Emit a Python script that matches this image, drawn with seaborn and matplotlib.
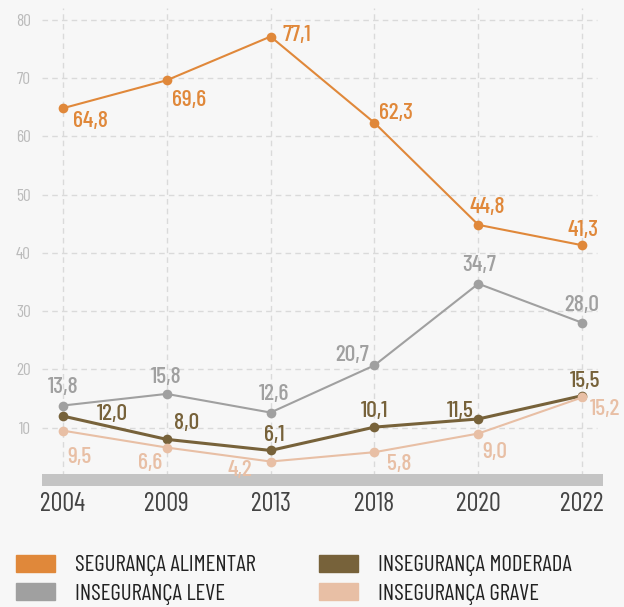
import numpy as np
import pandas as pd
import matplotlib
matplotlib.use("Agg")
import matplotlib.pyplot as plt
import seaborn as sns
from matplotlib.patches import Patch

anos = ['2004', '2009', '2013', '2018', '2020', '2022']
series = ['SEGURANÇA ALIMENTAR', 'INSEGURANÇA LEVE',
          'INSEGURANÇA MODERADA', 'INSEGURANÇA GRAVE']
seguranca = [64.8, 69.6, 77.1, 62.3, 44.8, 41.3]
leve = [13.8, 15.8, 12.6, 20.7, 34.7, 28.0]
moderada = [12.0, 8.0, 6.1, 10.1, 11.5, 15.5]
grave = [9.5, 6.6, 4.2, 5.8, 9.0, 15.2]
yticks = [10, 20, 30, 40, 50, 60, 70, 80]

cores = ['#E0883A', '#A0A0A0', '#77623A', '#E8BFA5']
larguras = [1.5, 1.5, 2.2, 1.5]
# deslocamento dos rotulos (pixels) para cada ponto
offs = [
    [(10, -11, 'left'), (5, -18, 'left'), (12, 4, 'left'), (5, 12, 'left'), (9, 20, 'center'), (1, 17, 'center')],
    [(0, 21, 'center'), (0, 19, 'center'), (3, 21, 'center'), (-5, 12, 'right'), (1, 21, 'center'), (-1, 20, 'center')],
    [(50, 4, 'center'), (20, 18, 'center'), (4, 17, 'center'), (0, 18, 'center'), (-18, 10, 'center'), (3, 17, 'center')],
    [(17, -24, 'center'), (-17, -13, 'center'), (-31, -6, 'center'), (25, -10, 'center'), (16, -16, 'center'), (23, -10, 'center')],
]

valores = [seguranca, leve, moderada, grave]
df = pd.DataFrame({
    'pos': np.tile(np.arange(len(anos)), len(series)),
    'valor': np.concatenate(valores),
    'serie': np.repeat(series, len(anos)),
})

sns.set_style("white")
plt.rcParams['font.family'] = ['Barlow Condensed', 'DejaVu Sans']

fig = plt.figure(figsize=(6.24, 6.07), dpi=100, facecolor='#F7F7F7')
ax = fig.add_axes([42 / 624, 1 - 486 / 607, (603 - 42) / 624, (486 - 8) / 607])
ax.set_facecolor('#F7F7F7')

ax.set_xlim(-0.2, 5.2)
ax.set_ylim(0, 82)

# grelha tracejada
for y in yticks:
    ax.axhline(y, xmin=0, xmax=0.99, color='#DADADA', lw=1, ls=(0, (4, 3)), zorder=0)
for x in range(len(anos)):
    ax.axvline(x, color='#DADADA', lw=1, ls=(0, (4, 3)), zorder=0)
ax.axhspan(0, 2.1, color='#C4C4C4', lw=0, zorder=1)

for i, s in enumerate(series):
    sub = df[df['serie'] == s]
    sns.lineplot(data=sub, x='pos', y='valor', color=cores[i], lw=larguras[i],
                 marker='o', markersize=7, markeredgewidth=0, ax=ax, zorder=3 + i)
    for j, v in enumerate(valores[i]):
        dx, dy, ha = offs[i][j]
        ax.annotate(f"{v:.1f}".replace('.', ','), (j, v), xytext=(dx, dy),
                    textcoords='offset pixels', ha=ha, va='center_baseline',
                    color=cores[i], fontsize=17, fontweight=500, clip_on=False, zorder=10)

for sp in ax.spines.values():
    sp.set_visible(False)
ax.set_xlabel('')
ax.set_ylabel('')
ax.set_yticks(yticks)
ax.set_yticklabels([str(y) for y in yticks], color='#BBBBBB', fontsize=12.5)
ax.set_xticks(range(len(anos)))
ax.set_xticklabels(anos, color='#444444', fontsize=19)
ax.tick_params(axis='y', length=0, pad=8)
ax.tick_params(axis='x', length=0, pad=4)

handles = [Patch(color=c, label=s) for c, s in zip(cores, series)]
fig.legend(handles=handles, loc='upper left',
           bbox_to_anchor=(16 / 624, 1 - 555 / 607), ncol=2, frameon=False,
           borderpad=0, borderaxespad=0,
           fontsize=16.5, handlelength=1.7, handleheight=0.74, handletextpad=0.87,
           columnspacing=2.75, labelspacing=0.3, labelcolor='#222222')

fig.savefig('out.png', dpi=100, facecolor=fig.get_facecolor())
